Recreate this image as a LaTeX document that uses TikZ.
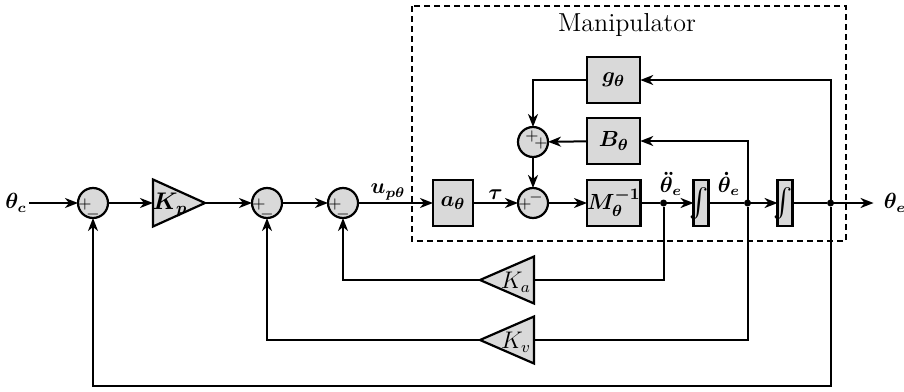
\documentclass[tikz,border=0pt]{standalone}
\usepackage{amsmath,bm}
\usetikzlibrary{arrows.meta,positioning,shapes.geometric}
\definecolor{BDfill}{RGB}{217,217,217}
\tikzset{
  sumn/.style={circle,draw,fill=BDfill,line width=1.1pt,minimum size=15pt,inner sep=0pt,outer sep=0pt},
  sumpm/.style={sumn,label={[sgn,xshift=-4pt,yshift=-0.5pt]center:$+$},label={[sgn,yshift=-5.5pt]center:$-$}},
  sumpp/.style={sumn,label={[sgn,xshift=-0.5pt,yshift=3pt]center:$+$},label={[sgn,xshift=4pt,yshift=-0.5pt]center:$+$}},
  summp/.style={sumn,label={[sgn,xshift=-4pt,yshift=-0.5pt]center:$+$},label={[sgn,xshift=1.5pt,yshift=3pt]center:$-$}},
  blk/.style={rectangle,draw,fill=BDfill,line width=1.1pt,minimum width=26.5pt,minimum height=23pt,inner sep=0pt,
              outer sep=0pt,font=\fontsize{11}{13}\selectfont},
  intg/.style={blk,minimum width=7.5pt,font=\Large},
  gainr/.style={isosceles triangle,isosceles triangle stretches,draw,fill=BDfill,line width=1.1pt,
                minimum width=23.5pt,minimum height=26pt,inner sep=0pt,outer sep=0pt},
  gainl/.style={gainr,shape border rotate=180,minimum height=27pt},
  jdot/.style={circle,fill,inner sep=0pt,outer sep=0pt,minimum size=3.5pt},
  sgn/.style={font=\fontsize{8}{8}\selectfont,inner sep=0pt},
  lbl/.style={font=\fontsize{10.5}{12}\selectfont,inner sep=1pt},
  sig/.style={-{Stealth[length=6.5pt,width=5pt,inset=2pt]},line width=1.2pt},
  wire/.style={line width=1.2pt},
  fbs/.style={-{Stealth[length=6.5pt,width=5pt,inset=2pt]},line width=1pt},
  fb/.style={line width=1pt}
}
\begin{document}
\begin{tikzpicture}[x=0.5pt,y=-0.5pt]
  \useasboundingbox (0,0) rectangle (904,391);
  % manipulator frame
  \draw[dashed,dash pattern=on 3pt off 2pt,line width=0.9pt] (412,6) rectangle (846,241);
  \node[font=\fontsize{13}{15}\selectfont] (manip) at (627,25) {Manipulator};
  % forward path
  \node[sumpm] (s1) at (93,203) {};
  \node[lbl] (thc) at (16,203) {$\bm{\theta_c}$};
  \node[gainr,right=22.5pt of s1] (kp) {};
  \node[lbl,font=\large] (kpl) at ([xshift=8.5pt,yshift=-1pt]kp.west) {$\bm{K_p}$};
  \node[sumpm,right=23.5pt of kp] (s2) {};
  \node[sumpm,right=23pt of s2] (s3) {};
  \node[blk,minimum width=20pt,right=37.5pt of s3] (a) {$\bm{a_\theta}$};
  \node[summp,right=22.5pt of a] (s5) {};
  \node[blk,right=19.5pt of s5] (m) {$\bm{M_\theta^{-1}}$};
  \node[jdot,right=9.75pt of m] (d1) {};
  \node[intg,right=13.25pt of d1] (i1) {\makebox[0pt]{\kern-1.5pt$\int$}};
  \node[jdot,right=17.75pt of i1] (d2) {};
  \node[intg,right=13.25pt of d2] (i2) {\makebox[0pt]{\kern-1.5pt$\int$}};
  \node[jdot,right=17.25pt of i2] (d3) {};
  \coordinate[right=19.75pt of d3] (out);
  \node[lbl,right=4pt of out] (the) {$\bm{\theta_e}$};
  % inner loops
  \node[sumpp,above=15.5pt of s5] (s4) {};
  \node[blk,above=8pt of m] (b) {$\bm{B_\theta}$};
  \node[blk,above=7.5pt of b] (g) {$\bm{g_\theta}$};
  \node[lbl] (lacc) at (671,184) {$\bm{\ddot{\theta}_e}$};
  \node[lbl] (lvel) at (729,184) {$\bm{\dot{\theta}_e}$};
  % feedback gains
  \node[gainl,anchor=east] (ka) at (534,280) {};
  \node[lbl,font=\large] (kal) at ([xshift=-9pt,yshift=-1pt]ka.east) {$K_a$};
  \node[gainl,anchor=east] (kv) at (534,340) {};
  \node[lbl,font=\large] (kvl) at ([xshift=-9pt,yshift=-1pt]kv.east) {$K_v$};
  \coordinate (bot) at (d3 |- 0,386);

  \draw[sig] (thc) -- (s1);
  \draw[sig] (s1) -- (kp);
  \draw[sig] (kp) -- (s2);
  \draw[sig] (s2) -- (s3);
  \draw[sig] (s3) -- node[lbl,above,pos=0.4]{$\bm{u_{p\theta}}$} (a);
  \draw[sig] (a) -- node[lbl,above]{$\bm{\tau}$} (s5);
  \draw[sig] (s5) -- (m);
  \draw[wire] (m) -- (d1);
  \draw[sig] (d1) -- (i1);
  \draw[wire] (i1) -- (d2);
  \draw[sig] (d2) -- (i2);
  \draw[wire] (i2) -- (d3);
  \draw[sig] (d3) -- (out);
  \draw[fbs] (d3) |- (g);
  \draw[fbs] (d2) |- (b);
  \draw[fbs] (g) -| (s4);
  \draw[fbs] (b) -- (s4);
  \draw[sig] (s4) -- (s5);
  \draw[fb] (d1) |- (ka);
  \draw[fbs] (ka) -| (s3);
  \draw[fb] (d2) |- (kv);
  \draw[fbs] (kv) -| (s2);
  \draw[fbs] (d3) -- (bot) -| (s1);
\end{tikzpicture}
\end{document}
